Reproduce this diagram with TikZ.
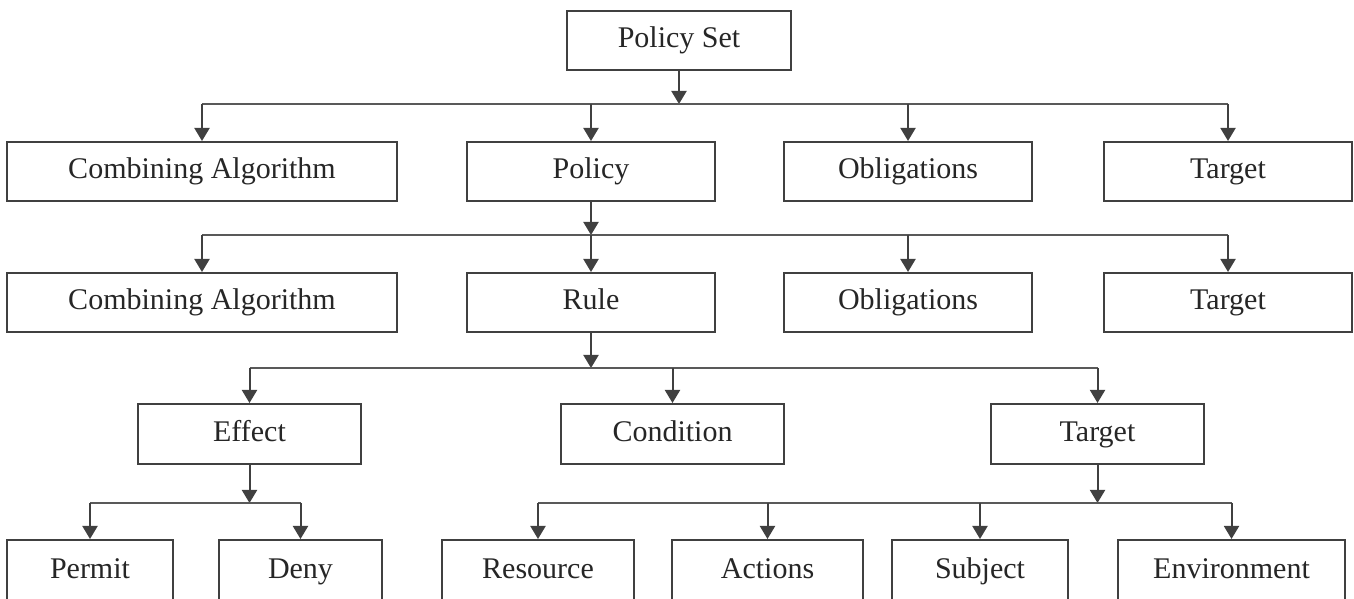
\documentclass[tikz,border=0pt]{standalone}
\usepackage{fontspec}
\setmainfont{Liberation Serif}
\usetikzlibrary{arrows.meta}

\begin{document}
\begin{tikzpicture}[x=0.5pt,y=0.5pt,
  box/.style={draw=black!75,line width=1pt,fill=white,inner sep=0pt,
    minimum height=29.5pt,text=black!85,font=\fontsize{15}{18}\selectfont,
    text height=0.74em,text depth=0pt},
  link/.style={draw=black!75,line width=1pt,-{Triangle[width=7.5pt,length=6.5pt]}},
  bus/.style={draw=black!65,line width=1pt}]
\useasboundingbox (0,0) rectangle (1354,599);
\clip (0,0) rectangle (1354,599);

% rows of boxes
\node[box,minimum width=112pt] (policyset) at (679,558.5) {Policy Set};

\node[box,minimum width=195pt] (algo1) at (202,427.5) {Combining Algorithm};
\node[box,minimum width=124pt] (policy) at (591,427.5) {Policy};
\node[box,minimum width=124pt] (oblig1) at (908,427.5) {Obligations};
\node[box,minimum width=124pt] (target1) at (1228,427.5) {Target};

\node[box,minimum width=195pt] (algo2) at (202,296.5) {Combining Algorithm};
\node[box,minimum width=124pt] (rule) at (591,296.5) {Rule};
\node[box,minimum width=124pt] (oblig2) at (908,296.5) {Obligations};
\node[box,minimum width=124pt] (target2) at (1228,296.5) {Target};

\node[box,minimum width=111.5pt,minimum height=30pt] (effect) at (249.5,165) {Effect};
\node[box,minimum width=111.5pt,minimum height=30pt] (condition) at (672.5,165) {Condition};
\node[box,minimum width=106.5pt,minimum height=30pt] (target3) at (1097.5,165) {Target};

\node[box,minimum width=83pt,minimum height=31pt] (permit) at (90,28) {Permit};
\node[box,minimum width=81.5pt,minimum height=31pt] (deny) at (300.5,28) {Deny};
\node[box,minimum width=96pt,minimum height=31pt] (resource) at (538,28) {Resource};
\node[box,minimum width=95.5pt,minimum height=31pt] (actions) at (767.5,28) {Actions};
\node[box,minimum width=88pt,minimum height=31pt] (subject) at (980,28) {Subject};
\node[box,minimum width=113.5pt,minimum height=31pt] (environment) at (1231.5,28) {Environment};

% bus lines
\coordinate (bus1) at (0,495);
\coordinate (bus2) at (0,364);
\coordinate (bus3) at (0,231);
\coordinate (bus4) at (0,96);

\draw[link] (policyset) -- (policyset |- bus1);
\draw[bus] (algo1 |- bus1) -- (target1 |- bus1);
\foreach \n in {algo1,policy,oblig1,target1}
  \draw[link] (\n |- bus1) -- (\n);

\draw[link] (policy) -- (policy |- bus2);
\draw[bus] (algo2 |- bus2) -- (target2 |- bus2);
\foreach \n in {algo2,rule,oblig2,target2}
  \draw[link] (\n |- bus2) -- (\n);

\draw[link] (rule) -- (rule |- bus3);
\draw[bus] (effect |- bus3) -- (target3 |- bus3);
\foreach \n in {effect,condition,target3}
  \draw[link] (\n |- bus3) -- (\n);

\draw[link] (effect) -- (effect |- bus4);
\draw[bus] (permit |- bus4) -- (deny |- bus4);
\foreach \n in {permit,deny}
  \draw[link] (\n |- bus4) -- (\n);

\draw[link] (target3) -- (target3 |- bus4);
\draw[bus] (resource |- bus4) -- (environment |- bus4);
\foreach \n in {resource,actions,subject,environment}
  \draw[link] (\n |- bus4) -- (\n);
\end{tikzpicture}
\end{document}
